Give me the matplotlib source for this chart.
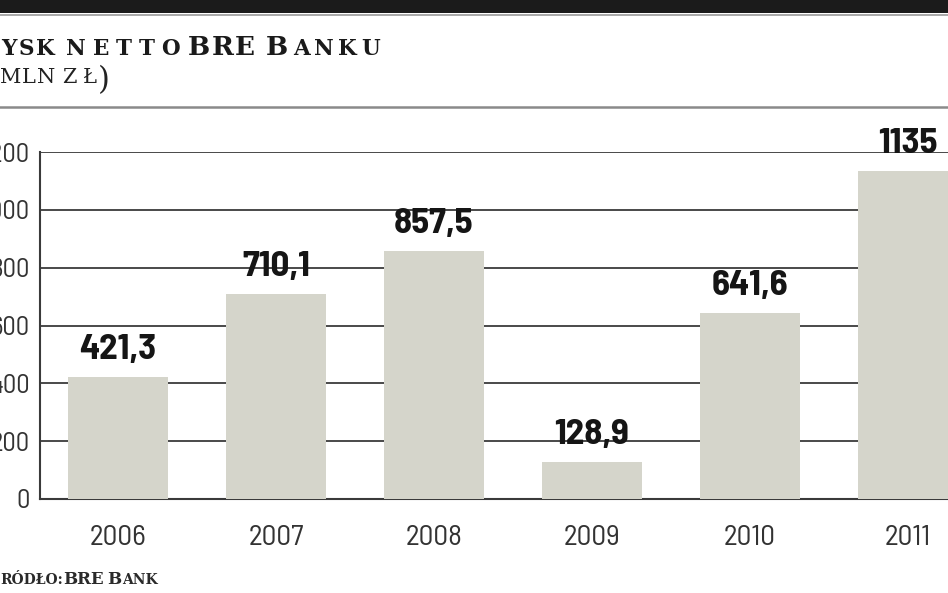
import matplotlib
matplotlib.use("Agg")
import matplotlib.pyplot as plt
from matplotlib import font_manager as fm
from matplotlib.patches import Rectangle
from matplotlib.lines import Line2D

years = ["2006", "2007", "2008", "2009", "2010", "2011"]
profit = [421.3, 710.1, 857.5, 128.9, 641.6, 1135]
yticks = [0, 200, 400, 600, 800, 1000, 1200]

NAMES = {f.name for f in fm.fontManager.ttflist}


def pick(cands):
    for c in cands:
        if c in NAMES:
            return c
    return "DejaVu Sans"


NARROW = pick(["Barlow Semi Condensed", "Barlow Condensed", "Roboto Condensed",
               "IBM Plex Sans Condensed", "PT Sans Narrow", "Liberation Sans Narrow",
               "DejaVu Sans"])
SERIF = "DejaVu Serif"

W, H = 948, 593
fig = plt.figure(figsize=(W / 100, H / 100), dpi=100)
fig.patch.set_facecolor("white")
renderer = fig.canvas.get_renderer()


def text_width(s, size, family, weight="normal"):
    t = fig.text(0, 0, s, fontsize=size, family=family, fontweight=weight)
    w = t.get_window_extent(renderer).width
    t.remove()
    return w


def fit_size(s, family, weight, target):
    return 20 * target / text_width(s, 20, family, weight)


def put(x, base, s, size, weight, color, family=SERIF):
    fig.text(x / W, 1 - base / H, s, fontsize=size, fontweight=weight, family=family,
             color=color, ha="left", va="baseline")


def fit_word(chars, x0, x1, base, weight, color, family=SERIF):
    """chars: list of (char, size). Spread characters to span x0..x1 (px)."""
    ws = [text_width(c, s, family, weight) for c, s in chars]
    n = len(chars)
    track = (x1 - x0 - sum(ws)) / (n - 1) if n > 1 else 0
    x = x0
    for (c, s), w in zip(chars, ws):
        put(x, base, c, s, weight, color, family)
        x += w + track


def caps(word, size):
    return [(c, size) for c in word]


# top black band and separators
fig.add_artist(Rectangle((0, 1 - 13 / H), 1, 13 / H, transform=fig.transFigure,
                         color="#1b1b1b", lw=0))
fig.add_artist(Line2D([0, 1], [1 - 14.5 / H] * 2, transform=fig.transFigure,
                      color="#9a9a9a", lw=1.2))
fig.add_artist(Line2D([0, 1], [1 - 106.5 / H] * 2, transform=fig.transFigure,
                      color="#8a8a8a", lw=1.8))

# title: "Zysk netto BRE Banku" in small caps
B, S = 19, 15.5
TC = "#1a1a1a"
wz = text_width("Z", B, SERIF, "bold")
put(-3 - wz, 55, "Z", B, "bold", TC)
fit_word(caps("YSK", S), 1, 55, 55, "bold", TC)
fit_word(caps("NETTO", S), 66, 180, 55, "bold", TC)
fit_word(caps("BRE", B), 188, 255, 55, "bold", TC)
fit_word([("B", B)] + caps("ANKU", S), 266, 380, 55, "bold", TC)

# subtitle "(mln zł)"
SC = "#222222"
sub = 15
fit_word(caps("MLN", sub), 0, 55, 83, "normal", SC)
fit_word(caps("ZŁ", sub), 62, 96, 83, "normal", SC)
par = 22
put(98, 89, ")", par, "normal", SC)
wp = text_width("(", par, SERIF, "normal")
put(-4 - wp, 89, "(", par, "normal", SC)

# source "Źródło: BRE Bank" (small caps, whole words)
RC = "#2a2a2a"
sb, ss = 12, 10
wzz = text_width("Ź", sb, SERIF, "bold")
put(-2 - wzz, 584, "Ź", sb, "bold", RC)
put(0, 584, "RÓDŁO:", ss, "bold", RC)
put(63, 584, "BRE", sb, "bold", RC)
put(107, 584, "B", sb, "bold", RC)
put(108 + text_width("B", sb, SERIF, "bold"), 584, "ANK", ss, "bold", RC)

# axes
x0, y0, y1 = 40, 499, 152
ax = fig.add_axes([x0 / W, (H - y0) / H, (W - x0) / W, (y0 - y1) / H])
ax.set_facecolor("none")
pos = list(range(len(years)))
ax.bar(pos, profit, width=0.635, color="#d5d5cb", zorder=3, lw=0)
ax.set_xlim(-0.494, 5.253)
ax.set_ylim(0, 1200)

xt_size = fit_size("2006", NARROW, "normal", 57)
yt_size = xt_size * 0.91
val_size = fit_size("421,3", NARROW, "bold", 77)

ax.set_yticks(yticks)
ax.set_yticklabels([str(v) for v in yticks], family=[NARROW, "DejaVu Sans"],
                   fontsize=yt_size, color="#333333")
ax.set_xticks(pos)
ax.set_xticklabels(years, family=[NARROW, "DejaVu Sans"], fontsize=xt_size, color="#333333")
ax.tick_params(axis="y", length=0, pad=7.5)
ax.tick_params(axis="x", length=0, pad=19)
ax.yaxis.grid(True, color="#3a3a3a", lw=1.3, zorder=1)
ax.set_axisbelow(True)
for s in ["top", "right"]:
    ax.spines[s].set_visible(False)
for s in ["left", "bottom"]:
    ax.spines[s].set_color("#3a3a3a")
    ax.spines[s].set_linewidth(1.5)
    ax.spines[s].set_zorder(2)

for p, v in zip(pos, profit):
    lab = str(int(v)) if float(v).is_integer() else f"{v:.1f}".replace(".", ",")
    ax.annotate(lab, (p, v), xytext=(0, 13), textcoords="offset points",
                ha="center", va="baseline", family=[NARROW, "DejaVu Sans"], fontweight="bold",
                fontsize=val_size, color="#151515", zorder=5, annotation_clip=False)

fig.savefig("out.png", dpi=100)
